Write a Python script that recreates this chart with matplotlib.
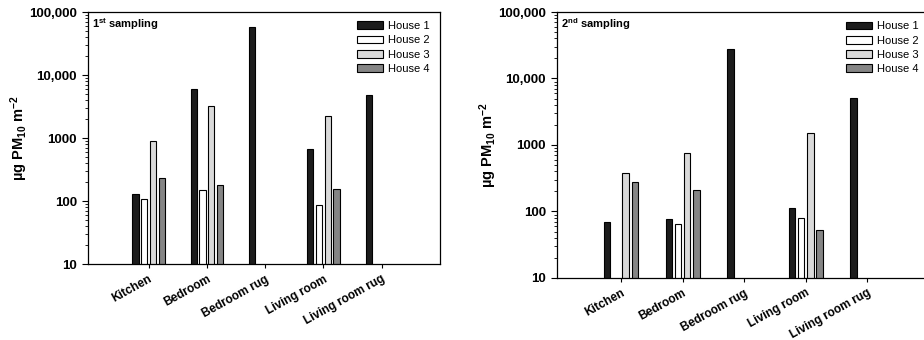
import matplotlib
matplotlib.use('Agg')
import matplotlib.pyplot as plt
import matplotlib.ticker as mticker
from matplotlib.patches import Patch
import numpy as np

plt.rcParams['font.family'] = ['Liberation Sans', 'DejaVu Sans']
plt.rcParams['mathtext.fontset'] = 'custom'
plt.rcParams['mathtext.rm'] = 'Liberation Sans'
plt.rcParams['mathtext.bf'] = 'Liberation Sans:bold'
plt.rcParams['mathtext.it'] = 'Liberation Sans:italic'

# data (ug PM10 m-2)
rooms = ['Kitchen', 'Bedroom', 'Bedroom rug', 'Living room', 'Living room rug']
houses = ['House 1', 'House 2', 'House 3', 'House 4']
nan = np.nan

first_h1 = [128, 5930, 58500, 668, 4820]
first_h2 = [106, 151, nan, 85, nan]
first_h3 = [890, 3220, nan, 2260, nan]
first_h4 = [232, 181, nan, 153, nan]

second_h1 = [69, 77, 27500, 113, 5040]
second_h2 = [nan, 64, nan, 80, nan]
second_h3 = [375, 760, nan, 1515, nan]
second_h4 = [278, 208, nan, 53, nan]

colors = ['#1c1c1c', '#ffffff', '#d9d9d9', '#858585']
ytick_vals = [10, 100, 1000, 10000, 100000]
ytick_labels = ['10', '100', '1000', '10,000', '100,000']

fig = plt.figure(figsize=(9.24, 3.4), dpi=100)
ax1 = fig.add_axes([0.0952, 0.2235, 0.381, 0.7412])
ax2 = fig.add_axes([0.6028, 0.1824, 0.4026, 0.7823])


def draw(ax, series, tag, sup):
    x = np.arange(len(rooms))
    pitch = 0.15
    width = 0.105
    for i, vals in enumerate(series):
        off = (i - 1.5) * pitch
        ax.bar(x + off, vals, width=width, color=colors[i],
               edgecolor='black', linewidth=0.8)
    ax.set_yscale('log')
    ax.set_ylim(10, 100000)
    ax.set_xlim(-1.04, 5.0)
    ax.set_yticks(ytick_vals)
    ax.set_yticklabels(ytick_labels, fontsize=9.5, fontweight='bold')
    ax.yaxis.set_minor_locator(mticker.LogLocator(base=10, subs=np.arange(2, 10)))
    ax.yaxis.set_minor_formatter(mticker.NullFormatter())
    ax.tick_params(axis='y', which='major', length=4.5, width=0.8, direction='out')
    ax.tick_params(axis='y', which='minor', length=2.5, width=0.6, direction='out')
    ax.set_xticks(x)
    ax.set_xticklabels(rooms, fontsize=8.6, fontweight='bold', rotation=29,
                       ha='right', rotation_mode='anchor')
    ax.tick_params(axis='x', length=3, width=0.8, direction='out', pad=3.5)
    for s in ax.spines.values():
        s.set_linewidth(0.9)
    ax.set_ylabel(r'µg PM$_{\mathbf{10}}$ m$^{\mathbf{-2}}$', fontsize=10.5,
                  fontweight='bold', labelpad=-1)
    ax.text(0.012, 0.985, '%s$^{\\mathbf{%s}}$ sampling' % (tag, sup),
            transform=ax.transAxes, fontsize=8, fontweight='bold',
            va='top', ha='left')
    handles = [Patch(facecolor=c, edgecolor='black', linewidth=0.8) for c in colors]
    ax.legend(handles, houses, loc='upper right', bbox_to_anchor=(0.99, 0.99),
              frameon=False, fontsize=8, handlelength=2.35, handleheight=0.7,
              labelspacing=0.38, handletextpad=0.45, borderaxespad=0.2)


draw(ax1, [first_h1, first_h2, first_h3, first_h4], '1', 'st')
draw(ax2, [second_h1, second_h2, second_h3, second_h4], '2', 'nd')

fig.savefig('out.png', dpi=100)
